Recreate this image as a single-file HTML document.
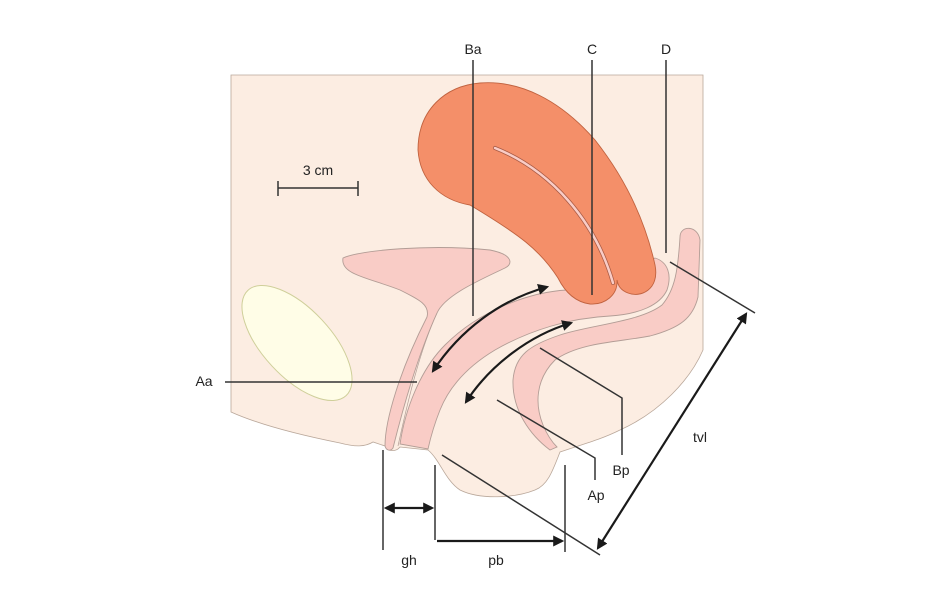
<!DOCTYPE html>
<html><head><meta charset="utf-8"><style>
html,body{margin:0;padding:0;background:#fff;}
svg{display:block;}
text{font-family:"Liberation Sans",sans-serif;font-size:14px;fill:#222;}
</style></head><body>
<svg width="940" height="600" viewBox="0 0 940 600" xmlns="http://www.w3.org/2000/svg">
<defs>
<marker id="ah" viewBox="0 0 10 10" refX="8" refY="5" markerWidth="5" markerHeight="5" orient="auto-start-reverse"><path d="M0,0 L10,5 L0,10 Z" fill="#1a1a1a"/></marker>
</defs>
<!-- body background -->
<path d="M231,75 H703 V350 C690,380 660,412 620,430 C600,440 580,445 560,452 C553,470 548,485 535,490 C515,498 480,500 460,490 C445,480 440,460 428,450 L400,447 C396,452 388,452 385,446 L373,442 C365,447 355,447 340,443 C300,435 260,425 231,412 Z" fill="#fcede2" stroke="#b9a79a" stroke-width="0.8"/>
<!-- pubic bone -->
<ellipse cx="297" cy="343" rx="72" ry="34" transform="rotate(47 297 343)" fill="#fffde7" stroke="#cfcf9a" stroke-width="1"/>
<!-- bladder + urethra -->
<path d="M343,258 C360,250 430,244 490,250 C515,255 512,265 505,268 C480,280 445,295 437,313 C420,350 405,400 393,448 C390,452 386,450 385,446 C385,420 400,370 427,317 C430,305 420,300 400,290 C370,278 340,275 343,258 Z" fill="#f9ccc6" stroke="#b39d96" stroke-width="0.9"/>
<path d="M437,313 C420,350 408,400 398,446" fill="none" stroke="#b39d96" stroke-width="0.7"/>
<!-- vagina -->
<path d="M400,444 C405,410 420,370 445,345 C480,310 530,292 567,290 L610,285 L655,258 C668,262 672,275 667,290 C660,305 640,314 610,316 C570,318 530,330 495,350 C470,365 450,385 440,410 C434,425 430,440 428,449 Z" fill="#f9ccc6" stroke="#b39d96" stroke-width="0.9"/>
<!-- rectum -->
<path d="M680,237 C680,225 698,225 700,240 L698,297 C693,318 680,328 650,336 C620,342 580,342 555,360 C535,380 535,405 543,425 C548,437 553,443 557,447 L550,450 C530,435 512,410 513,380 C515,355 530,345 560,335 C590,325 640,322 662,305 C675,290 678,270 680,237 Z" fill="#f9ccc6" stroke="#b39d96" stroke-width="0.9"/>
<!-- uterus -->
<path d="M480,83 C520,80 560,100 595,140 C625,178 645,220 655,265 C660,290 640,298 628,293 C620,290 618,285 617,280 C618,295 605,305 590,304 C575,302 565,292 558,278 C540,250 520,235 470,205 C440,200 420,180 418,150 C418,110 445,86 480,83 Z" fill="#f48f69" stroke="#c0623f" stroke-width="0.9"/>
<path d="M495,148 C550,170 595,220 613,283" fill="none" stroke="#a85a44" stroke-width="4" stroke-linecap="round"/>
<path d="M495,148 C550,170 595,220 613,283" fill="none" stroke="#f9ccc6" stroke-width="2.5" stroke-linecap="round"/>
<!-- label lines -->
<g stroke="#333" stroke-width="1.5" fill="none">
<line x1="473" y1="60" x2="473" y2="316"/>
<line x1="592" y1="60" x2="592" y2="295"/>
<line x1="666" y1="60" x2="666" y2="253"/>
<line x1="225" y1="382" x2="417" y2="382"/>
<line x1="278" y1="188" x2="358" y2="188"/>
<line x1="278" y1="181" x2="278" y2="196"/>
<line x1="358" y1="181" x2="358" y2="196"/>
<line x1="670" y1="262" x2="755" y2="313"/>
<line x1="442" y1="455" x2="600" y2="555"/>
<polyline points="540,348 622,398 622,455"/>
<polyline points="497,400 595,458 595,480"/>
<line x1="383" y1="450" x2="383" y2="550"/>
<line x1="435" y1="465" x2="435" y2="540"/>
<line x1="565" y1="465" x2="565" y2="552"/>
</g>
<g stroke="#1a1a1a" stroke-width="2.2" fill="none">
<line x1="746" y1="314" x2="598" y2="548" marker-start="url(#ah)" marker-end="url(#ah)"/>
<line x1="386" y1="508" x2="432" y2="508" marker-start="url(#ah)" marker-end="url(#ah)"/>
<line x1="437" y1="541" x2="562" y2="541" marker-end="url(#ah)"/>
<path d="M433,371 C460,330 500,300 547,287" marker-start="url(#ah)" marker-end="url(#ah)"/>
<path d="M466,402 C490,365 530,335 571,323" marker-start="url(#ah)" marker-end="url(#ah)"/>
</g>
<text x="473" y="54" text-anchor="middle">Ba</text>
<text x="592" y="54" text-anchor="middle">C</text>
<text x="666" y="54" text-anchor="middle">D</text>
<text x="204" y="386" text-anchor="middle">Aa</text>
<text x="318" y="175" text-anchor="middle">3 cm</text>
<text x="700" y="442" text-anchor="middle">tvl</text>
<text x="621" y="475" text-anchor="middle">Bp</text>
<text x="596" y="500" text-anchor="middle">Ap</text>
<text x="409" y="565" text-anchor="middle">gh</text>
<text x="496" y="565" text-anchor="middle">pb</text>
</svg>
</body></html>
